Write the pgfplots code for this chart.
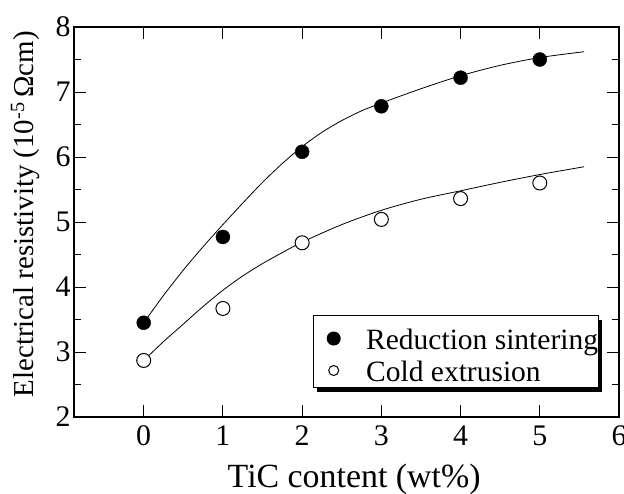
\documentclass[border=0pt]{standalone}
\usepackage{fontspec}
\setmainfont{Liberation Serif}
\usepackage{pgfplots}
\pgfplotsset{compat=1.18}
\usetikzlibrary{shadows}

\begin{document}
\begin{tikzpicture}
\begin{axis}[
  at={(74bp,77bp)}, anchor=south west,
  scale only axis, width=545bp, height=390bp,
  xmin=-0.88, xmax=6, ymin=2, ymax=8,
  xtick={0,...,6}, ytick={2,...,8}, minor y tick num=1,
  xtick pos=both, ytick pos=both, tick align=inside,
  major tick length=12bp, minor tick length=7bp,
  axis line style={line width=1.6bp},
  every tick/.style={black, line width=0.9bp},
  /pgf/number format/assume math mode=true,
  tick label style={font=\fontsize{30}{30}\selectfont},
  xticklabel style={yshift=-5bp},
  xlabel={TiC content (wt\%)},
  ylabel={Electrical resistivity (10\textsuperscript{-5}\,Ωcm)},
  xlabel style={font=\fontsize{34}{34}\selectfont,
    at={(axis description cs:0.514,-0.18)}, anchor=base},
  ylabel style={font=\fontsize{29}{29}\selectfont,
    at={(axis description cs:-0.0752,0.52)}, anchor=base},
  legend style={at={(axis description cs:0.438,0.2615)}, anchor=north west,
    draw=black, line width=1bp, fill=white,
    drop shadow={shadow xshift=4bp, shadow yshift=-4bp, fill=black, opacity=1},
    font=\fontsize{29.6}{30}\selectfont,
    inner xsep=0bp, inner ysep=4bp, column sep=0bp, row sep=0bp,
    nodes={inner sep=0bp, text height=30bp, text depth=2bp}},
  legend cell align=left,
  legend image code/.code={%
    \path (-20bp,0bp) (32bp,0bp);
    \draw[#1] plot coordinates {(0bp,-3bp)};},
]
% fitted curves
\addplot[black, line width=0.8bp, smooth, forget plot] coordinates {
  (0,3.45) (0.25,3.87) (0.5,4.26) (0.75,4.62) (1,4.96) (1.25,5.29)
  (1.5,5.61) (1.75,5.90) (2,6.16) (2.25,6.38) (2.5,6.56) (2.75,6.71)
  (3,6.83) (3.5,7.05) (4,7.25) (4.5,7.41) (5,7.53) (5.56,7.62)};
\addplot[black, line width=0.8bp, smooth, forget plot] coordinates {
  (0,2.87) (0.25,3.16) (0.5,3.43) (0.75,3.70) (1,3.95) (1.25,4.17)
  (1.5,4.36) (1.75,4.53) (2,4.69) (2.5,4.96) (3,5.18) (3.5,5.35)
  (4,5.48) (4.5,5.61) (5,5.73) (5.56,5.85)};
% measured points
\addplot[only marks, mark=*, mark size=7bp, black,
  legend image post style={mark size=6.5bp}] coordinates {
  (0,3.45) (1,4.77) (2,6.08) (3,6.78) (4,7.22) (5,7.5)};
\addplot[only marks, mark=*, mark size=7bp, draw=black, fill=white, line width=1bp,
  legend image post style={mark size=5bp}] coordinates {
  (0,2.87) (1,3.67) (2,4.68) (3,5.04) (4,5.36) (5,5.6)};
\legend{Reduction sintering, Cold extrusion}
\end{axis}
\pgfresetboundingbox
\useasboundingbox (0,0) rectangle (624bp,494bp);
\end{tikzpicture}
\end{document}
